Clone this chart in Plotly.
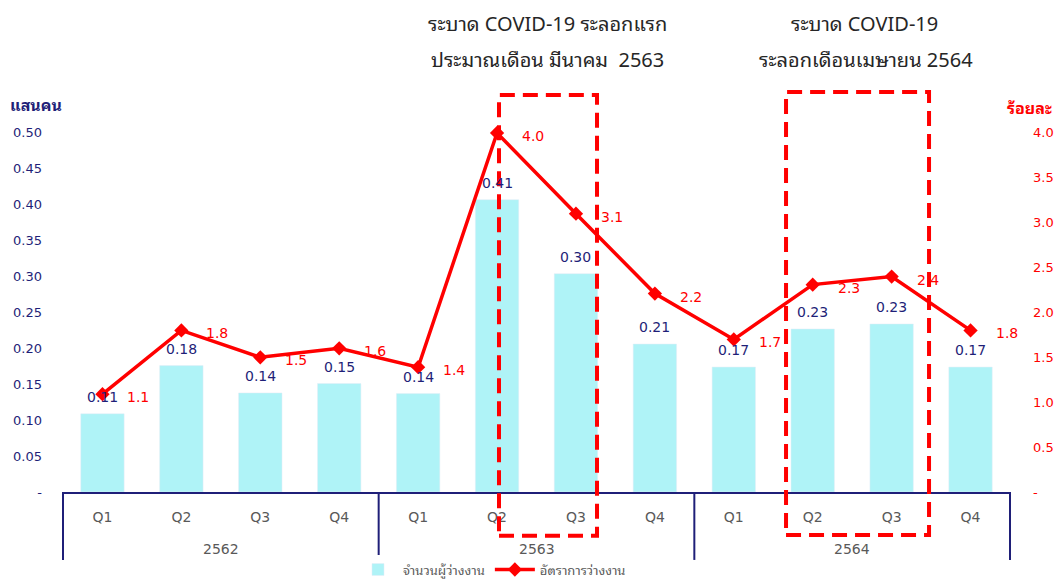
"""Unemployed persons and unemployment rate by quarter, 2562-2564."""

import plotly.graph_objects as go

# ── data ─────────────────────────────────────────────────────────────

year_groups = ["2562", "2563", "2564"]
years = ["2562"] * 4 + ["2563"] * 4 + ["2564"] * 4
quarters = ["Q1", "Q2", "Q3", "Q4"] * 3
unemployed = [0.109, 0.176, 0.138, 0.151, 0.137, 0.407, 0.304, 0.206, 0.174, 0.227, 0.234, 0.174]
rate = [1.09, 1.80, 1.50, 1.60, 1.39, 4.0, 3.10, 2.21, 1.70, 2.31, 2.40, 1.80]

left_ticks = [0, 0.05, 0.10, 0.15, 0.20, 0.25, 0.30, 0.35, 0.40, 0.45, 0.50]
left_text = ["-"] + [f"{v:.2f}" for v in left_ticks[1:]]
right_ticks = [0, 0.5, 1.0, 1.5, 2.0, 2.5, 3.0, 3.5, 4.0]
right_text = ["-"] + [f"{v:.1f}" for v in right_ticks[1:]]

NAVY = "#1F1F78"
RED = "#FF0000"
CYAN = "#AFF3F7"
GREY = "#595959"
NUM_FONT = "DejaVu Sans, Verdana, sans-serif"
THAI_FONT = "Tahoma, Leelawadee UI, Noto Sans Thai Looped, Noto Sans Thai, DejaVu Sans, sans-serif"

cats = [f"{y} {q}" for y, q in zip(years, quarters)]

# ── chart ────────────────────────────────────────────────────────────

fig = go.Figure()
fig.add_trace(
    go.Bar(
        x=cats,
        y=unemployed,
        name="จำนวนผู้ว่างงาน",
        marker_color=CYAN,
        yaxis="y",
    )
)
fig.add_trace(
    go.Scatter(
        x=cats,
        y=rate,
        name="อัตราการว่างงาน",
        mode="lines+markers",
        line={"color": RED, "width": 3.5},
        marker={"symbol": "diamond", "size": 11, "color": RED},
        yaxis="y2",
        cliponaxis=False,
    )
)

# value labels
for c, v in zip(cats, unemployed):
    fig.add_annotation(
        x=c, y=v, yref="y", text=f"{v:.2f}", showarrow=False,
        xanchor="center", yanchor="middle", yshift=17,
        font={"family": NUM_FONT, "size": 14, "color": NAVY},
    )
for c, v in zip(cats, rate):
    fig.add_annotation(
        x=c, y=v, yref="y2", text=f"{v:.1f}", showarrow=False,
        xanchor="center", yanchor="middle", xshift=36, yshift=-3,
        font={"family": NUM_FONT, "size": 14, "color": RED},
    )

# year group labels and dividers under the quarter labels
n_groups = len(year_groups)
for g, label in enumerate(year_groups):
    fig.add_annotation(
        x=(g + 0.5) / n_groups, y=-0.144, xref="x domain", yref="paper", text=label,
        showarrow=False, xanchor="center", yanchor="middle",
        font={"family": NUM_FONT, "size": 14, "color": GREY},
    )
for g in range(n_groups + 1):
    fig.add_shape(
        type="line", xref="x domain", yref="paper", x0=g / n_groups, x1=g / n_groups,
        y0=0, y1=-0.172, line={"color": NAVY, "width": 2},
    )

# highlight boxes
for x0, x1, y0, y1 in [(0.4604, 0.5639, -0.111, 1.005), (0.7635, 0.9145, -0.109, 1.0127)]:
    fig.add_shape(
        type="rect", xref="paper", yref="paper", x0=x0, x1=x1, y0=y0, y1=y1,
        line={"color": RED, "width": 4, "dash": "15px,8px"}, layer="above",
    )

notes = [
    (0.512, 1.19, "ระบาด COVID-19 ระลอกแรก"),
    (0.512, 1.099, "ประมาณเดือน มีนาคม  2563"),
    (0.846, 1.19, "ระบาด COVID-19"),
    (0.848, 1.099, "ระลอกเดือนเมษายน 2564"),
]
for x, y, t in notes:
    fig.add_annotation(
        x=x, y=y, xref="paper", yref="paper", text=t, showarrow=False,
        xanchor="center", yanchor="middle",
        font={"family": THAI_FONT, "size": 20, "color": "#262626"},
    )

fig.add_annotation(
    x=-0.0285, y=0.982, xref="paper", yref="paper", text="<b>แสนคน</b>", showarrow=False,
    xanchor="center", yanchor="middle",
    font={"family": THAI_FONT, "size": 16, "color": NAVY},
)
fig.add_annotation(
    x=1.021, y=0.975, xref="paper", yref="paper", text="<b>ร้อยละ</b>", showarrow=False,
    xanchor="center", yanchor="middle",
    font={"family": THAI_FONT, "size": 16, "color": RED},
)

fig.update_layout(
    width=1057,
    height=580,
    margin={"l": 63, "r": 47, "t": 97, "b": 88, "autoexpand": False},
    plot_bgcolor="white",
    paper_bgcolor="white",
    bargap=0.45,
    showlegend=True,
    legend={
        "orientation": "h", "x": 0.453, "xanchor": "center",
        "yref": "container", "y": 0.018, "yanchor": "middle",
        "itemwidth": 40,
        "font": {"family": THAI_FONT, "size": 13, "color": GREY},
    },
    xaxis={
        "type": "category",
        "range": [-0.5, len(cats) - 0.5],
        "automargin": False,
        "showline": True,
        "linecolor": NAVY,
        "linewidth": 2,
        "showgrid": False,
        "tickvals": cats,
        "ticktext": quarters,
        "ticklabelstandoff": 11,
        "tickfont": {"family": NUM_FONT, "size": 14, "color": GREY},
    },
    yaxis={
        "range": [0, 0.55],
        "automargin": False,
        "tickvals": left_ticks,
        "ticktext": left_text,
        "showgrid": False,
        "zeroline": False,
        "ticklabelstandoff": 20,
        "tickfont": {"family": NUM_FONT, "size": 13, "color": NAVY},
    },
    yaxis2={
        "range": [0, 4.4],
        "automargin": False,
        "overlaying": "y",
        "side": "right",
        "tickvals": right_ticks,
        "ticktext": right_text,
        "showgrid": False,
        "zeroline": False,
        "ticklabelstandoff": 22,
        "tickfont": {"family": NUM_FONT, "size": 13, "color": RED},
    },
)

fig.write_html(
    "out.html",
    config={"displayModeBar": False},
    post_script="document.body.style.margin = '0';",
)
